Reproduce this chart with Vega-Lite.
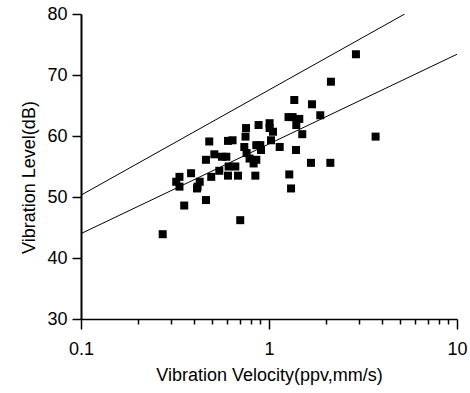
{
  "$schema": "https://vega.github.io/schema/vega-lite/v6.json",
  "autosize": "none",
  "width": 376,
  "height": 305,
  "padding": {"left": 81, "top": 14, "right": 13, "bottom": 74},
  "background": "white",
  "config": {
    "view": {"stroke": null},
    "axis": {"grid": false, "domainColor": "black", "tickColor": "black", "labelColor": "black", "titleColor": "black", "labelFont": "Liberation Sans", "titleFont": "Liberation Sans", "titleFontWeight": "normal"}
  },
  "datasets": {
    "pts": [
      {"v": 0.272, "L": 43.9}, {"v": 0.334, "L": 53.3}, {"v": 0.321, "L": 52.5}, {"v": 0.334, "L": 51.7},
      {"v": 0.354, "L": 48.6}, {"v": 0.385, "L": 53.9}, {"v": 0.414, "L": 51.4}, {"v": 0.428, "L": 52.5},
      {"v": 0.417, "L": 51.7}, {"v": 0.462, "L": 49.5}, {"v": 0.462, "L": 56.1}, {"v": 0.481, "L": 59.1},
      {"v": 0.493, "L": 53.3}, {"v": 0.512, "L": 57.0}, {"v": 0.544, "L": 54.3}, {"v": 0.562, "L": 56.6},
      {"v": 0.593, "L": 56.6}, {"v": 0.605, "L": 59.2}, {"v": 0.64, "L": 59.3}, {"v": 0.605, "L": 53.5},
      {"v": 0.61, "L": 55.0}, {"v": 0.662, "L": 55.0}, {"v": 0.684, "L": 53.5}, {"v": 0.703, "L": 46.2},
      {"v": 0.755, "L": 61.3}, {"v": 0.75, "L": 59.9}, {"v": 0.739, "L": 58.2}, {"v": 0.76, "L": 57.2},
      {"v": 0.788, "L": 56.3}, {"v": 0.828, "L": 55.5}, {"v": 0.846, "L": 53.5}, {"v": 0.856, "L": 56.1},
      {"v": 0.88, "L": 61.8}, {"v": 0.856, "L": 58.5}, {"v": 0.899, "L": 58.5}, {"v": 0.907, "L": 57.7},
      {"v": 1.007, "L": 62.1}, {"v": 1.007, "L": 61.3}, {"v": 1.05, "L": 60.7}, {"v": 1.025, "L": 59.3},
      {"v": 1.14, "L": 58.2}, {"v": 1.27, "L": 63.1}, {"v": 1.335, "L": 63.1}, {"v": 1.363, "L": 65.9},
      {"v": 1.449, "L": 62.8}, {"v": 1.397, "L": 61.8}, {"v": 1.503, "L": 60.3}, {"v": 1.392, "L": 57.7},
      {"v": 1.282, "L": 53.7}, {"v": 1.31, "L": 51.4}, {"v": 1.672, "L": 55.6}, {"v": 1.693, "L": 65.2},
      {"v": 1.874, "L": 63.4}, {"v": 2.12, "L": 55.6}, {"v": 2.135, "L": 68.9}, {"v": 2.9, "L": 73.4},
      {"v": 3.69, "L": 59.9}
    ],
    "lines": [
      {"s": "upper", "v": 0.1, "L": 50.3}, {"s": "upper", "v": 5.27, "L": 80.0},
      {"s": "lower", "v": 0.1, "L": 44.0}, {"s": "lower", "v": 10, "L": 73.4}
    ]
  },
  "layer": [
    {
      "data": {"name": "lines"},
      "mark": {"type": "line", "color": "black", "strokeWidth": 1, "clip": true},
      "encoding": {
        "x": {"field": "v", "type": "quantitative",
          "scale": {"type": "log", "domain": [0.1, 10], "nice": false},
          "axis": {"orient": "bottom",
            "values": [0.1, 0.2, 0.3, 0.4, 0.5, 0.6, 0.7, 0.8, 0.9, 1, 2, 3, 4, 5, 6, 7, 8, 9, 10],
            "labelExpr": "datum.value == 0.1 ? '0.1' : datum.value == 1 ? '1' : datum.value == 10 ? '10' : ''",
            "tickSize": {"condition": {"test": "datum.value == 0.1 || datum.value == 1 || datum.value == 10", "value": 10}, "value": 5},
            "tickWidth": 1.5, "domainWidth": 1.5, "labelFontSize": 18, "labelPadding": 11,
            "title": "Vibration Velocity(ppv,mm/s)", "titleFontSize": 18, "titlePadding": 8, "labelFlush": false, "labelOverlap": false}},
        "y": {"field": "L", "type": "quantitative",
          "scale": {"domain": [30, 80], "nice": false, "zero": false},
          "axis": {"orient": "left", "values": [30, 35, 40, 45, 50, 55, 60, 65, 70, 75, 80],
            "labelExpr": "datum.value % 10 == 0 ? datum.label : ''",
            "tickSize": {"condition": {"test": "datum.value % 10 == 0", "value": 9}, "value": 6},
            "tickWidth": 1.5, "domainWidth": 2,
            "labelFontSize": 18, "labelPadding": 5, "labelOverlap": false,
            "title": "Vibration Level(dB)", "titleFontSize": 18, "titlePadding": 8, "titleY": 163}},
        "detail": {"field": "s"}
      }
    },
    {
      "data": {"name": "pts"},
      "mark": {"type": "point", "shape": "square", "filled": true, "color": "black", "opacity": 1, "size": 64},
      "encoding": {
        "x": {"field": "v", "type": "quantitative"},
        "y": {"field": "L", "type": "quantitative"}
      }
    }
  ]
}
